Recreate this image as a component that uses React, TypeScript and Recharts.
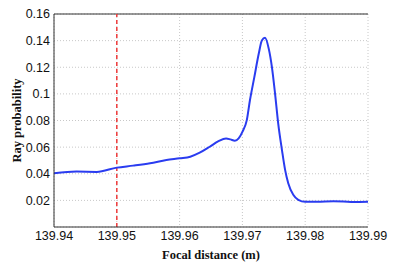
import React from 'react';
import { LineChart, Line, XAxis, YAxis, CartesianGrid, ReferenceLine } from 'recharts';

const focal = [139.94, 139.9436, 139.9468, 139.95, 139.9526, 139.9553, 139.9579, 139.96, 139.9617, 139.9632, 139.9648, 139.9662, 139.9674, 139.9681, 139.9688, 139.9694, 139.97, 139.9707, 139.9712, 139.9719, 139.9726, 139.9731, 139.9736, 139.9742, 139.9747, 139.9752, 139.9757, 139.9763, 139.9768, 139.9773, 139.9781, 139.9789, 139.98, 139.9819, 139.9845, 139.9861, 139.9877, 139.99];
const prob = [0.0404, 0.0416, 0.0414, 0.0446, 0.0461, 0.0479, 0.0503, 0.0516, 0.0528, 0.0558, 0.0603, 0.0645, 0.0665, 0.0658, 0.0648, 0.0665, 0.0715, 0.0803, 0.0952, 0.1126, 0.1301, 0.1401, 0.1421, 0.1338, 0.1201, 0.1002, 0.0778, 0.0578, 0.0429, 0.0329, 0.0242, 0.0204, 0.0189, 0.0189, 0.0194, 0.0192, 0.0187, 0.0189];
const xTicks = [139.94, 139.95, 139.96, 139.97, 139.98, 139.99];
const yTicks = [0.02, 0.04, 0.06, 0.08, 0.1, 0.12, 0.14, 0.16];
const markerX = 139.95;
const yMax = 0.16;

const data = focal.map((f, i) => ({ f, p: prob[i] }));

const tickStyle = { fontFamily: 'Liberation Sans, Arial, sans-serif', fontSize: 12.5, fill: '#111' };
const labelStyle = { fontFamily: 'Liberation Serif, Times New Roman, serif', fontSize: 12.5, fontWeight: 'bold', fill: '#111', textAnchor: 'middle' as const };

export default function App() {
  return (
    <div style={{ position: 'absolute', left: 0, top: 0, width: 404, height: 263, background: '#fff' }}>
      <LineChart width={404} height={263} data={data} margin={{ top: 14, right: 36, bottom: 0, left: 0 }}>
        <CartesianGrid stroke="#c8c8c8" strokeDasharray="1 2" />
        <XAxis
          dataKey="f"
          type="number"
          domain={[139.94, 139.99]}
          ticks={xTicks}
          tickFormatter={(v: number) => v.toFixed(2)}
          allowDataOverflow
          height={36}
          tickLine={false}
          tickSize={3}
          tickMargin={1}
          tick={tickStyle}
          axisLine={{ stroke: '#333' }}
          label={{ value: 'Focal distance (m)', position: 'insideBottom', offset: 4, style: labelStyle }}
        />
        <YAxis
          type="number"
          domain={[0, yMax]}
          ticks={yTicks}
          interval={0}
          tickFormatter={(v: number) => String(Number(v.toFixed(2)))}
          width={54}
          tickLine={false}
          tickSize={3}
          tickMargin={1}
          tick={tickStyle}
          axisLine={{ stroke: '#333' }}
          label={{ value: 'Ray probability', angle: -90, position: 'insideLeft', dx: 12, style: labelStyle }}
        />
        <YAxis yAxisId="right" orientation="right" domain={[0, yMax]} tick={false} tickLine={false} width={0} axisLine={{ stroke: '#777', strokeWidth: 2 }} />
        <ReferenceLine y={yMax} stroke="#333" strokeWidth={1} />
        <ReferenceLine x={markerX} stroke="#ee3a3a" strokeWidth={1.5} strokeDasharray="4 3" />
        <Line type="monotone" dataKey="p" stroke="#2a3cf0" strokeWidth={2} dot={false} isAnimationActive={false} />
      </LineChart>
    </div>
  );
}
